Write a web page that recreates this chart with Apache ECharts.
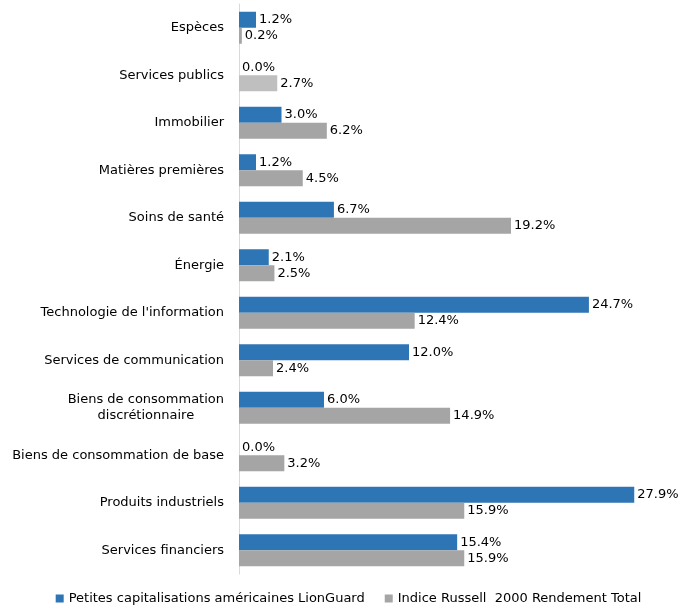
<!DOCTYPE html>
<html>
<head>
<meta charset="utf-8">
<script src="https://cdn.jsdelivr.net/npm/echarts@6/dist/echarts.min.js"></script>
<style>
  html, body { margin: 0; padding: 0; background: #fff; }
  #chart { width: 697px; height: 609px; }
</style>
</head>
<body>
<div id="chart"></div>
<script>
// secteurs, de haut en bas
const categories = [
  'Espèces',
  'Services publics',
  'Immobilier',
  'Matières premières',
  'Soins de santé',
  'Énergie',
  "Technologie de l'information",
  'Services de communication',
  'Biens de consommation\ndiscrétionnaire',
  'Biens de consommation de base',
  'Produits industriels',
  'Services financiers'
];
const lionGuard = [1.2, 0.0, 3.0, 1.2, 6.7, 2.1, 24.7, 12.0, 6.0, 0.0, 27.9, 15.4];
const russell = [0.2, 2.7, 6.2, 4.5, 19.2, 2.5, 12.4, 2.4, 14.9, 3.2, 15.9, 15.9];
const seriesNames = ['Petites capitalisations américaines LionGuard', 'Indice Russell  2000 Rendement Total'];

const FONT = 'DejaVu Sans';
const chart = echarts.init(document.getElementById('chart'));

const labelStyle = {
  show: true,
  position: 'right',
  distance: 3,
  color: '#000',
  fontFamily: FONT,
  fontSize: 13,
  formatter: (p) => p.value.toFixed(1) + '%'
};

chart.setOption({
  animation: false,
  textStyle: { fontFamily: FONT },
  grid: { left: 239, right: 33, top: 4, bottom: 35 },
  legend: {
    bottom: -1,
    left: 'center',
    itemWidth: 8,
    itemHeight: 8,
    itemGap: 20,
    icon: 'rect',
    textStyle: { fontFamily: FONT, fontSize: 13, color: '#000' },
    data: seriesNames
  },
  xAxis: {
    type: 'value',
    min: 0,
    max: 30,
    show: false
  },
  yAxis: {
    type: 'category',
    inverse: true,
    data: categories,
    axisLine: { show: true, lineStyle: { color: '#d9d9d9', width: 1 } },
    axisTick: { show: false },
    axisLabel: {
      margin: 15,
      color: '#000',
      fontFamily: FONT,
      fontSize: 13,
      formatter: (v) => v.split('\n').map((l) => '{c|' + l + '}').join('\n'),
      rich: { c: { align: 'center', fontFamily: FONT, fontSize: 13, color: '#000', lineHeight: 16 } }
    }
  },
  series: [
    {
      name: seriesNames[0],
      type: 'bar',
      barWidth: 16,
      barGap: '0%',
      itemStyle: { color: '#2e75b6' },
      label: labelStyle,
      data: lionGuard
    },
    {
      name: seriesNames[1],
      type: 'bar',
      barWidth: 16,
      barGap: '0%',
      itemStyle: { color: '#a5a5a5' },
      label: labelStyle,
      // barre « Services publics » plus claire dans l'original
      data: russell.map((v, i) => i === 1 ? { value: v, itemStyle: { color: '#bfbfbf' } } : v)
    }
  ]
});
</script>
</body>
</html>
